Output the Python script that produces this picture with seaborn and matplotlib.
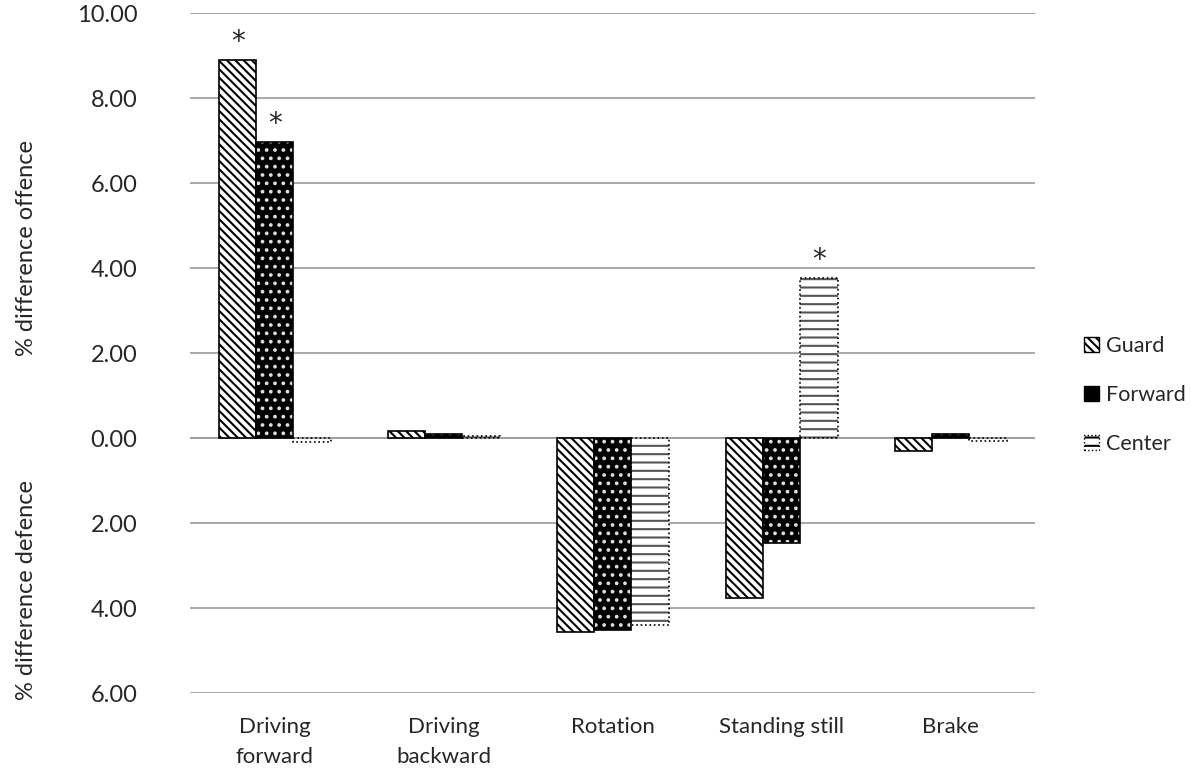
"""Percent difference offence/defence per movement type, by playing position."""

import matplotlib
matplotlib.use("Agg")
import matplotlib.pyplot as plt
from matplotlib.patches import Rectangle, Patch
import numpy as np
import pandas as pd
import seaborn as sns

movements = ["Driving\nforward", "Driving\nbackward", "Rotation", "Standing still", "Brake"]
positions = ["Guard", "Forward", "Center"]
guard = [8.89, 0.17, -4.56, -3.76, -0.30]
forward = [6.96, 0.10, -4.52, -2.47, 0.10]
center = [-0.08, 0.06, -4.40, 3.76, -0.06]
# (movement index, position) pairs marked as significant
significant = [(0, "Guard"), (0, "Forward"), (3, "Center")]

df = pd.DataFrame({
    "movement": np.tile(movements, 3),
    "position": np.repeat(positions, len(movements)),
    "value": guard + forward + center,
})

sns.set_style("white")
plt.rcParams["font.family"] = ["Lato", "DejaVu Sans"]
plt.rcParams["hatch.linewidth"] = 1.5

fig = plt.figure(figsize=(11.9, 7.78), dpi=100)
ax = fig.add_axes([0.16, 0.109, 0.71, 0.874])

sns.barplot(data=df, x="movement", y="value", hue="position", hue_order=positions,
            width=0.66, palette=["white", "black", "white"], legend=False, ax=ax)

styles = {
    "Guard": dict(face="white", hatch_col="black", hatch="\\\\\\\\", ls="-"),
    "Forward": dict(face="black", hatch_col="#dddddd", hatch="..", ls="-"),
    "Center": dict(face="white", hatch_col="#555555", hatch="--", ls=":"),
}

for pos, cont in zip(positions, ax.containers):
    st = styles[pos]
    for bar in cont:
        bar.set_facecolor(st["face"])
        bar.set_edgecolor(st["hatch_col"])
        bar.set_hatch(st["hatch"])
        bar.set_linewidth(0)
        ax.add_patch(Rectangle(bar.get_xy(), bar.get_width(), bar.get_height(),
                               fill=False, edgecolor="black", lw=1.2,
                               linestyle=st["ls"], zorder=bar.get_zorder() + 0.1))

for idx, pos in significant:
    bar = ax.containers[positions.index(pos)][idx]
    ax.text(bar.get_x() + bar.get_width() / 2, bar.get_height() + 0.1, "*",
            ha="center", va="bottom", fontsize=20, family="DejaVu Sans")

ticks = np.arange(-6, 10.1, 2)
ax.set_ylim(-6, 10)
ax.set_yticks(ticks)
ax.set_yticklabels([f"{abs(v):.2f}" for v in ticks], fontsize=17)
ax.tick_params(axis="x", labelsize=16, length=0, pad=17)
for lbl in ax.get_xticklabels():
    lbl.set_linespacing(1.65)
ax.tick_params(axis="y", length=0, pad=38)
ax.yaxis.grid(True, color="#a0a0a0", lw=1.3)
ax.set_axisbelow(True)
for s in ax.spines.values():
    s.set_visible(False)
ax.axhline(0, color="#a0a0a0", lw=1.3, zorder=0.5)
ax.set_xlabel("")
ax.set_ylabel("")

fig.text(0.022, 1 - 248 / 778, "% difference offence", rotation=90,
         ha="center", va="center", fontsize=17)
fig.text(0.022, 1 - 590 / 778, "% difference defence", rotation=90,
         ha="center", va="center", fontsize=17)

handles = []
for pos in positions:
    st = styles[pos]
    handles.append(Patch(facecolor=st["face"], edgecolor="black", hatch=st["hatch"],
                         linestyle=st["ls"], label=pos))
fig.legend(handles=handles, loc="center left", bbox_to_anchor=(0.895, 1 - 395 / 778),
           frameon=False, fontsize=15.5, handlelength=0.7, handleheight=0.7,
           handletextpad=0.3, labelspacing=1.35)

fig.savefig("out.png", dpi=100)
